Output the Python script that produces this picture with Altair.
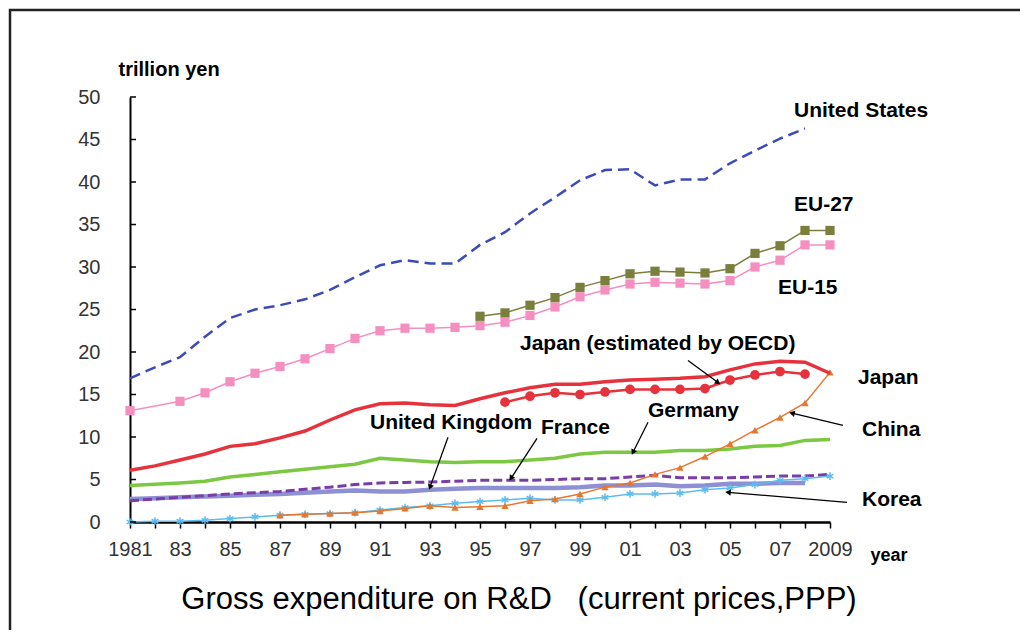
import math
import altair as alt
import pandas as pd

# ---------------- data ----------------
us_years = list(range(1981, 2009))
us_vals = [16.9, 18.2, 19.4, 21.8, 24.0, 25.0, 25.5, 26.2, 27.3, 28.8, 30.2, 30.8, 30.4, 30.4,
           32.6, 34.1, 36.3, 38.2, 40.2, 41.4, 41.5, 39.6, 40.3, 40.3, 42.2, 43.7, 45.1, 46.3]

eu15_years = [1981] + list(range(1983, 2010))
eu15_vals = [13.1, 14.2, 15.2, 16.5, 17.5, 18.3, 19.2, 20.4, 21.6, 22.5, 22.8, 22.8, 22.9, 23.1,
             23.5, 24.3, 25.3, 26.5, 27.3, 28.0, 28.2, 28.1, 28.0, 28.4, 30.0, 30.8, 32.6, 32.6]

eu27_years = list(range(1995, 2010))
eu27_vals = [24.2, 24.6, 25.5, 26.4, 27.6, 28.4, 29.2, 29.5, 29.4, 29.3, 29.8, 31.6, 32.5, 34.3, 34.3]

japan_years = list(range(1981, 2010))
japan_vals = [6.1, 6.6, 7.3, 8.0, 8.9, 9.2, 9.9, 10.7, 12.0, 13.2, 13.9, 14.0, 13.8, 13.7, 14.5,
              15.2, 15.8, 16.2, 16.2, 16.5, 16.7, 16.8, 16.9, 17.1, 17.9, 18.6, 18.9, 18.8, 17.5]

japan_oecd_years = list(range(1996, 2009))
japan_oecd_vals = [14.1, 14.8, 15.2, 15.0, 15.3, 15.6, 15.6, 15.6, 15.7, 16.7, 17.3, 17.7, 17.4]

germany_years = list(range(1981, 2010))
germany_vals = [4.3, 4.45, 4.6, 4.8, 5.3, 5.6, 5.9, 6.2, 6.5, 6.8, 7.5, 7.3, 7.1, 7.0, 7.1, 7.1,
                7.3, 7.5, 8.0, 8.2, 8.2, 8.2, 8.4, 8.4, 8.6, 8.9, 9.0, 9.6, 9.7]

france_years = list(range(1981, 2010))
france_vals = [2.5, 2.7, 2.9, 3.1, 3.3, 3.45, 3.6, 3.85, 4.1, 4.4, 4.6, 4.65, 4.7, 4.8, 4.9, 4.9,
               4.9, 5.0, 5.1, 5.1, 5.3, 5.5, 5.2, 5.2, 5.2, 5.3, 5.4, 5.4, 5.6]

uk_years = list(range(1981, 2009))
uk_vals = [2.7, 2.8, 2.9, 3.0, 3.1, 3.2, 3.3, 3.45, 3.6, 3.7, 3.6, 3.6, 3.8, 3.9, 4.0, 4.0, 4.0,
           4.0, 4.1, 4.3, 4.3, 4.4, 4.2, 4.3, 4.5, 4.5, 4.6, 4.6]

korea_years = list(range(1981, 2010))
korea_vals = [0.0, 0.1, 0.1, 0.2, 0.4, 0.6, 0.8, 0.9, 1.0, 1.1, 1.4, 1.7, 1.9, 2.2, 2.4, 2.6, 2.8,
              2.6, 2.6, 2.9, 3.3, 3.3, 3.4, 3.8, 4.0, 4.4, 4.9, 5.1, 5.4]

china_years = list(range(1987, 2010))
china_vals = [0.8, 0.9, 1.0, 1.1, 1.3, 1.6, 1.9, 1.7, 1.8, 1.9, 2.5, 2.7, 3.3, 4.1, 4.6, 5.6, 6.4,
              7.7, 9.2, 10.8, 12.3, 14.0, 17.6]

y_ticks = [0, 5, 10, 15, 20, 25, 30, 35, 40, 45, 50]
x_ticks = list(range(1981, 2010))

# series labels (text, year, value)
label_texts = ["United States", "EU-27", "EU-15", "Japan (estimated by OECD)", "Japan",
               "China", "Germany", "United Kingdom", "France", "Korea"]
label_x = [2007.56, 2007.56, 2006.92, 1996.6, 2010.12, 2010.28, 2001.72, 1990.6, 1997.44, 2010.28]
label_y = [48.4, 37.26, 27.5, 20.9, 16.9, 10.8, 13.1, 11.7, 11.1, 2.55]

# annotation arrows (from -> tip), in data units
arrow_x1 = [1993.72, 1997.28, 2001.72, 2003.32, 2009.52, 2009.68]
arrow_y1 = [9.97, 9.85, 11.73, 19.0, 11.38, 2.32]
arrow_x2 = [1993.0, 1996.24, 2001.12, 2004.52, 2007.48, 2004.92]
arrow_y2 = [4.1, 5.14, 8.2, 16.4, 12.8, 3.49]

chart_title = "Gross expenditure on R&D\u00a0\u00a0 (current prices,PPP)"

# ---------------- chart ----------------
W, H = 700, 425
XMIN, XMAX, YMAX = 1981, 2009, 50
FONT = "Liberation Sans"

xs = alt.Scale(domain=[XMIN, XMAX], nice=False, zero=False)
ys = alt.Scale(domain=[0, YMAX], nice=False)

x_axis = alt.Axis(values=x_ticks,
                  labelExpr="datum.value % 2 == 0 ? '' : ((datum.value == 1981 || datum.value == 2009) ? '' + datum.value : substring('' + datum.value, 2, 4))",
                  labelFont=FONT, labelFontSize=20, labelColor="#333333", labelPadding=11,
                  tickColor="black", tickSize=6, tickWidth=1.5,
                  domainColor="black", domainWidth=2.5, grid=False,
                  labelFlush=False, labelOverlap=False,
                  title="year", titleFont=FONT, titleFontSize=18, titleFontWeight="bold",
                  titleAlign="left", titleAngle=0, titleX=740, titleY=33, titleBaseline="middle",
                  titleColor="black")
y_axis = alt.Axis(values=y_ticks, labelFont=FONT, labelFontSize=20, labelColor="#333333",
                  labelPadding=30, ticks=False, domainColor="black", domainWidth=2, grid=False,
                  title="trillion yen", titleFont=FONT, titleFontSize=20, titleFontWeight="bold",
                  titleAngle=0, titleAlign="left", titleBaseline="middle", titleX=-12, titleY=-28,
                  titleColor="black")


def X(field):
    return alt.X(field, scale=xs, axis=x_axis)


def Y(field):
    return alt.Y(field, scale=ys, axis=y_axis)


def df(years, vals):
    return pd.DataFrame({"year": years, "value": vals})


def line(years, vals, color, width, dash=None):
    kw = dict(color=color, strokeWidth=width, clip=False)
    if dash:
        kw["strokeDash"] = dash
    return alt.Chart(df(years, vals)).mark_line(**kw).encode(x=X("year:Q"), y=Y("value:Q"))


def points(years, vals, color, shape, size, filled=True, sw=1):
    kw = dict(shape=shape, size=size, filled=filled, color=color, opacity=1, strokeWidth=sw)
    return alt.Chart(df(years, vals)).mark_point(**kw).encode(x=X("year:Q"), y=Y("value:Q"))


frame = alt.Chart(pd.DataFrame({"a": [0]})).mark_rect(
    fill=None, stroke="#222222", strokeWidth=2.5).encode(
    x=alt.value(-120), x2=alt.value(1200), y=alt.value(-87), y2=alt.value(800))

ytick_rules = alt.Chart(pd.DataFrame({"value": y_ticks})).mark_rule(
    color="black", strokeWidth=1.5).encode(
    y=Y("value:Q"), x=alt.value(0), x2=alt.value(6))

star = "M0,-1L0,1M-0.87,-0.5L0.87,0.5M-0.87,0.5L0.87,-0.5"

layers = [
    frame,
    line(uk_years, uk_vals, "#8e90d4", 4.5),
    line(france_years, france_vals, "#7a3da6", 3, dash=[9, 4]),
    line(germany_years, germany_vals, "#7dc843", 3.5),
    line(korea_years, korea_vals, "#5cbcf0", 1.5),
    points(korea_years, korea_vals, "#5cbcf0", star, 60, filled=False, sw=1.5),
    line(china_years, china_vals, "#e7772e", 1.5),
    points(china_years, china_vals, "#e7772e", "triangle-up", 55),
    line(japan_years, japan_vals, "#e6323c", 3.5),
    line(japan_oecd_years, japan_oecd_vals, "#e6323c", 2.5),
    points(japan_oecd_years, japan_oecd_vals, "#e6323c", "circle", 95),
    line(eu15_years, eu15_vals, "#f48fc0", 1.5),
    points(eu15_years, eu15_vals, "#f48fc0", "square", 85),
    line(eu27_years, eu27_vals, "#7b7f3c", 1.5),
    points(eu27_years, eu27_vals, "#7b7f3c", "square", 85),
    line(us_years, us_vals, "#3b4cb8", 2.5, dash=[11, 6]),
    ytick_rules,
]

# arrows
ang = []
for a, b, c, d in zip(arrow_x1, arrow_y1, arrow_x2, arrow_y2):
    dx = (c - a) * W / (XMAX - XMIN)
    dy = -(d - b) * H / YMAX
    ang.append(math.degrees(math.atan2(dx, -dy)) % 360)
arrows = pd.DataFrame({"x1": arrow_x1, "y1": arrow_y1, "x2": arrow_x2, "y2": arrow_y2, "ang": ang})
layers.append(alt.Chart(arrows).mark_rule(color="black", strokeWidth=1.3).encode(
    x=X("x1:Q"), y=Y("y1:Q"), x2="x2:Q", y2="y2:Q"))
layers.append(alt.Chart(arrows).mark_point(shape="triangle-up", filled=True, color="black",
                                           size=40, opacity=1).encode(
    x=X("x2:Q"), y=Y("y2:Q"), angle=alt.Angle("ang:Q", scale=None)))

labels = pd.DataFrame({"text": label_texts, "x": label_x, "y": label_y})
layers.append(alt.Chart(labels).mark_text(align="left", baseline="middle", font=FONT,
                                          fontSize=21, fontWeight="bold", color="black").encode(
    x=X("x:Q"), y=Y("y:Q"), text="text:N"))

# bottom caption
layers.append(alt.Chart(pd.DataFrame({"t": [chart_title]})).mark_text(
    align="center", baseline="middle", font=FONT, fontSize=31, color="black").encode(
    x=alt.value(389), y=alt.value(503), text="t:N"))

chart = alt.layer(*layers).properties(
    width=W, height=H,
    padding={"left": 122, "top": 89, "right": 190, "bottom": 108},
    autosize=alt.AutoSizeParams(type="none"),
).configure_view(stroke=None)

chart.save("out.html", embed_options={"renderer": "svg", "actions": False})
